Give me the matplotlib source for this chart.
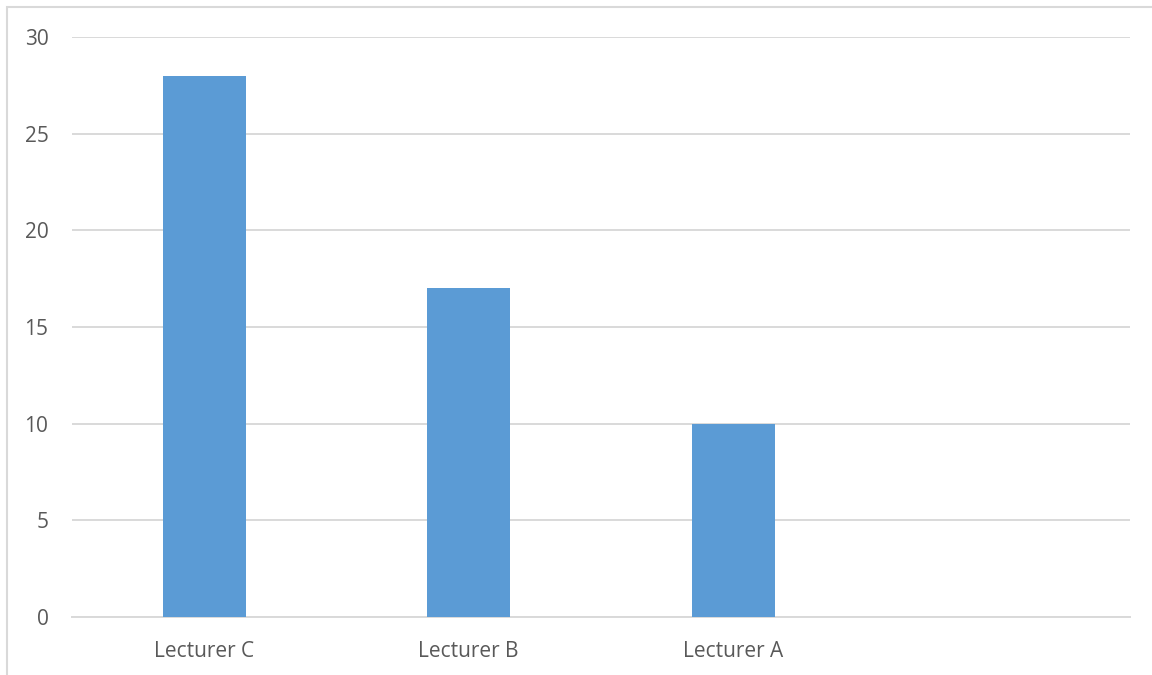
import matplotlib.pyplot as plt
from matplotlib.patches import Rectangle

categories = ["Lecturer C", "Lecturer B", "Lecturer A", ""]
values = [28, 17, 10, 0]
yticks = [0, 5, 10, 15, 20, 25, 30]

plt.rcParams['font.family'] = ['Open Sans', 'DejaVu Sans']

fig = plt.figure(figsize=(11.52, 6.75), dpi=100)
ax = fig.add_axes([72/1152, 1 - 617/675, (1130 - 72)/1152, (617 - 37)/675])

x = list(range(len(categories)))
ax.bar(x[:3], values[:3], width=0.314, color="#5B9BD5", zorder=3)

ax.set_xlim(-0.5, len(categories) - 0.5)
ax.set_ylim(0, 30)
ax.set_yticks(yticks)
ax.set_xticks(x)
ax.set_xticklabels(categories)
ax.grid(axis="y", color="#D9D9D9", linewidth=1.4, zorder=0)
for s in ["top", "right", "left"]:
    ax.spines[s].set_visible(False)
ax.spines["bottom"].set_color("#D9D9D9")
ax.spines["bottom"].set_linewidth(1.4)
ax.tick_params(axis="both", length=0, labelsize=15, labelcolor="#595959")
ax.tick_params(axis="y", pad=17)
ax.tick_params(axis="x", pad=17)

# chart frame
fig.add_artist(Rectangle((7/1152, -0.1), 1.2, 1.1 - 7/675, transform=fig.transFigure,
                         fill=False, edgecolor="#D9D9D9", linewidth=1.5))

fig.savefig("out.png", dpi=100)
